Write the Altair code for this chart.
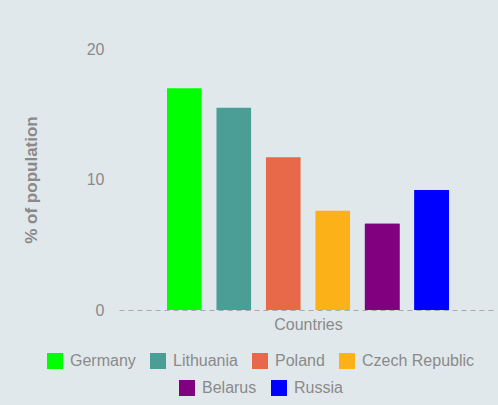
import altair as alt
import pandas as pd

countries = ["Germany", "Lithuania", "Poland", "Czech Republic", "Belarus", "Russia"]
values = [17.0, 15.5, 11.7, 7.6, 6.6, 9.2]
colors = ["#00ff00", "#4a9e96", "#e8694a", "#fbb117", "#800080", "#0000ff"]
y_ticks = [0, 10, 20]

row1 = countries[:4]
row2 = countries[4:]

df = pd.DataFrame({"country": countries, "value": values})

font = "Liberation Sans"
grey = "#8a8a8a"

x = alt.X(
    "country:N", sort=countries, title="Countries",
    scale=alt.Scale(paddingInner=0.3, paddingOuter=0.97),
    axis=alt.Axis(labels=False, ticks=False, domain=True, domainColor="#a9a9a9",
                  domainDash=[5, 4], domainWidth=1, titleFontSize=16,
                  titleFontWeight="normal", titleColor=grey, titlePadding=6,
                  grid=False, titleFont=font),
)
y = alt.Y(
    "value:Q", title="% of population",
    scale=alt.Scale(domain=[0, 20], nice=False),
    axis=alt.Axis(values=y_ticks, ticks=False, domain=False, grid=False,
                  labelFontSize=16, labelColor=grey, labelPadding=15, labelFont=font,
                  titleFontSize=17, titleFontWeight="bold", titleColor=grey,
                  titlePadding=46, titleFont=font),
)


def legend(vals, lx, ly):
    return alt.Legend(
        title=None, orient="none", legendX=lx, legendY=ly, direction="horizontal",
        values=vals, symbolType="square", symbolSize=256, symbolStrokeWidth=0,
        symbolOpacity=1, labelFontSize=16, labelColor=grey, labelFont=font,
        labelOffset=7, columnPadding=14, padding=0,
    )


base = alt.Chart(df)
bars1 = base.mark_bar().encode(
    x=x, y=y,
    color=alt.Color("country:N", scale=alt.Scale(domain=countries, range=colors),
                    legend=legend(row1, -72, 304)),
)
bars2 = base.transform_filter(
    alt.FieldOneOfPredicate(field="country", oneOf=row2)
).mark_bar().encode(
    x=x, y=y,
    color=alt.Color("country:N", scale=alt.Scale(domain=countries, range=colors),
                    legend=legend(row2, 60, 331)),
)

chart = alt.layer(bars1, bars2).resolve_scale(color="independent").properties(
    width=378, height=261, background="#e1e8eb",
    padding={"left": 119, "top": 49, "right": 1, "bottom": 95},
    autosize=alt.AutoSizeParams(type="none"),
).configure(font=font).configure_view(stroke=None)

chart.save("out.html", embed_options={"renderer": "svg", "actions": False})
